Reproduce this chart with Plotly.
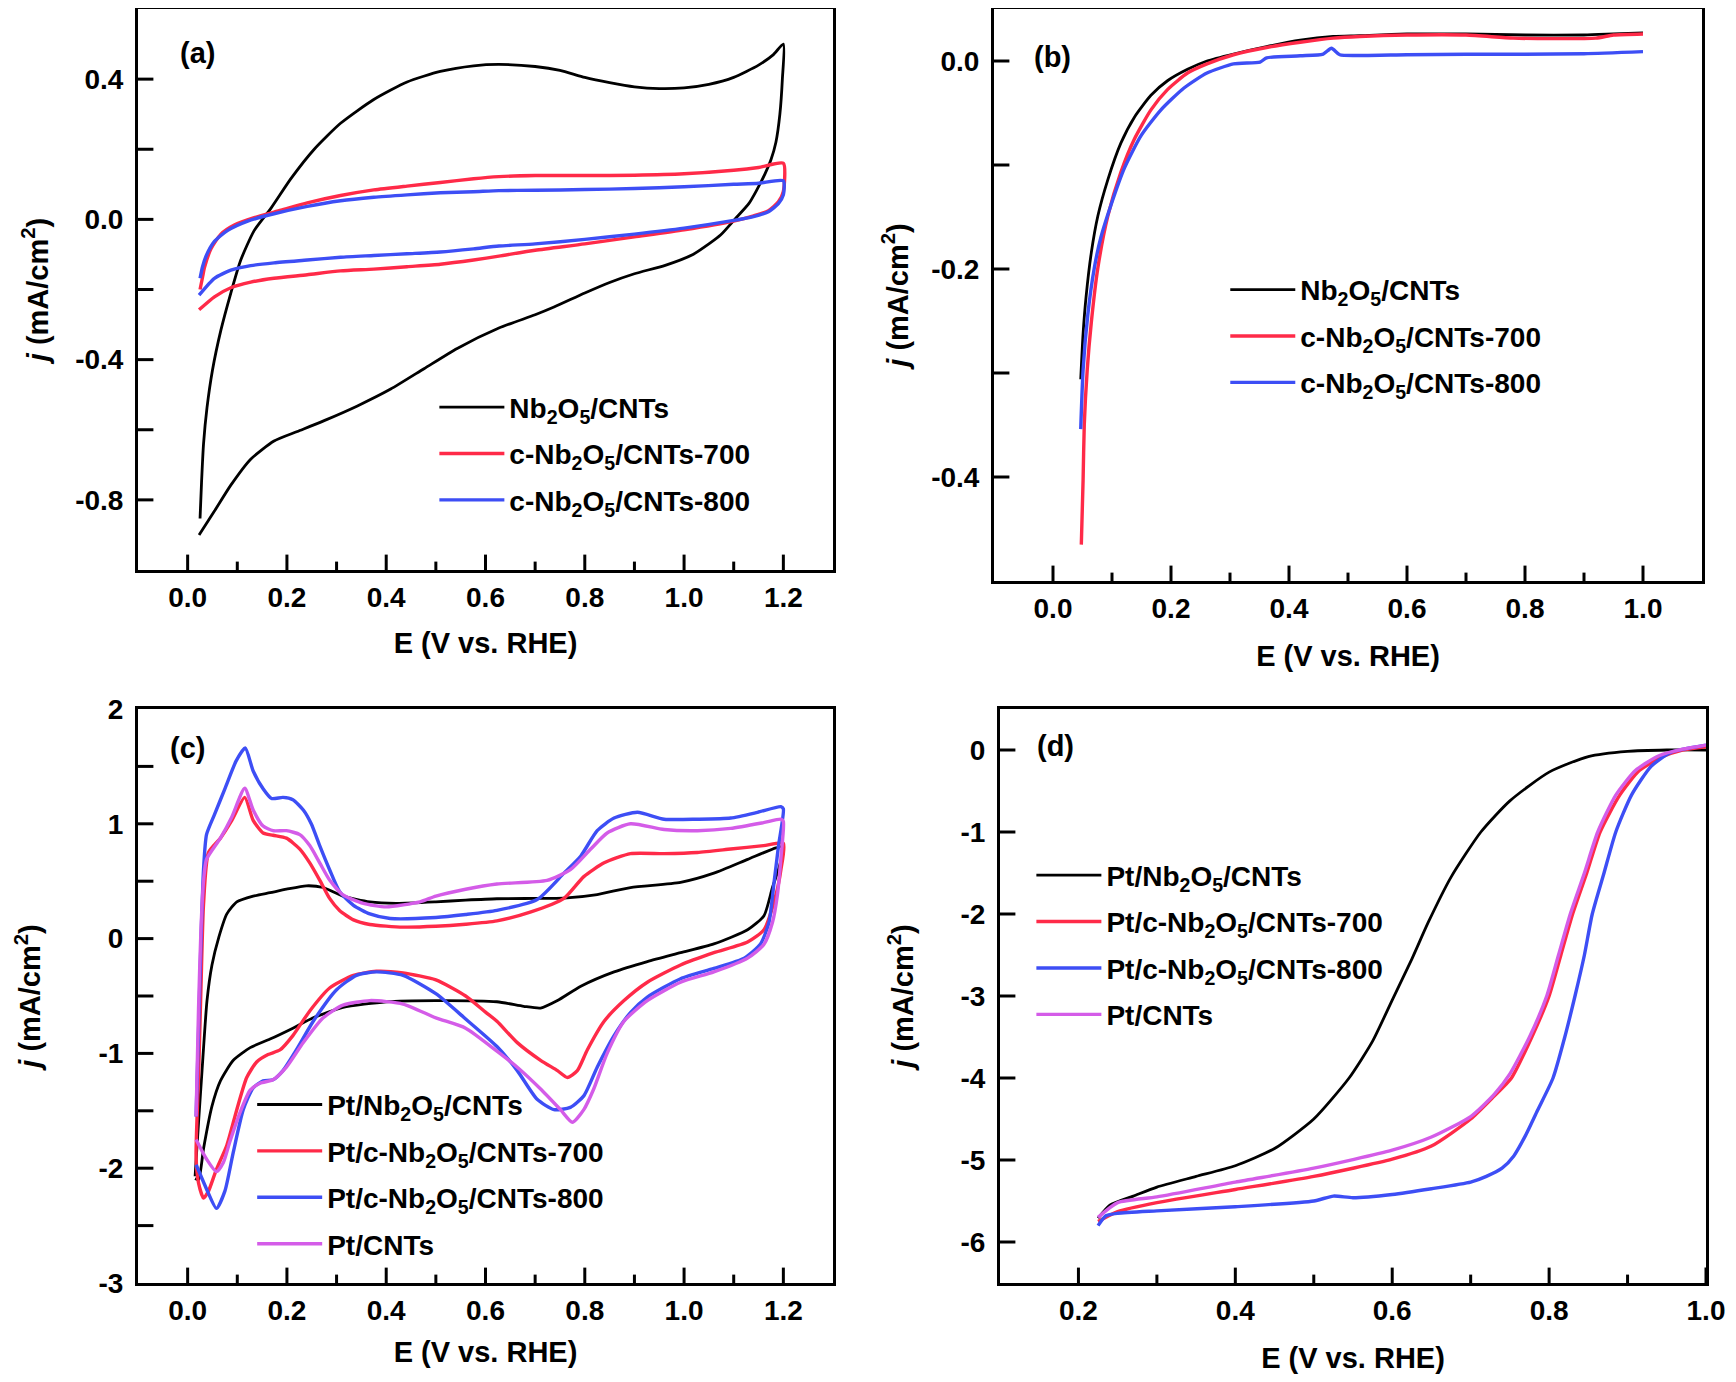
import plotly.graph_objects as go

# the page body has an 8 px margin, so the figure is 16 px smaller than the window
OFF = 8
W, H = 1736 - 2 * OFF, 1382 - 2 * OFF

# ---------------- (a) CV of the supports ----------------
a_black_x = [0.025, 0.028, 0.032, 0.039, 0.05, 0.067, 0.087, 0.107, 0.134, 0.168, 0.208, 0.255, 0.308,
             0.375, 0.442, 0.509, 0.576, 0.627, 0.7, 0.75, 0.8, 0.85, 0.9, 0.95, 1.0, 1.05, 1.1, 1.15,
             1.18, 1.2,
             1.198, 1.193, 1.185, 1.175, 1.163, 1.145, 1.13, 1.102, 1.074, 1.05, 1.018, 0.962, 0.9, 0.85,
             0.8, 0.738, 0.7, 0.627, 0.543, 0.476, 0.409, 0.342, 0.275, 0.221, 0.174, 0.127, 0.087,
             0.054, 0.023]
a_black_y = [-0.853, -0.75, -0.64, -0.537, -0.43, -0.316, -0.21, -0.116, -0.032, 0.032, 0.116, 0.2, 0.274,
             0.342, 0.392, 0.422, 0.438, 0.442, 0.436, 0.425, 0.405, 0.39, 0.378, 0.373, 0.375, 0.385, 0.405,
             0.44, 0.47, 0.50,
             0.40, 0.30, 0.22, 0.17, 0.13, 0.08, 0.044, 0.0, -0.044, -0.07, -0.1, -0.131, -0.155, -0.18,
             -0.21, -0.25, -0.272, -0.31, -0.368, -0.426, -0.484, -0.532, -0.574, -0.605, -0.632,
             -0.684, -0.758, -0.832, -0.9]

a_red_x = [0.025, 0.03, 0.034, 0.047, 0.067, 0.094, 0.134, 0.188, 0.241, 0.308, 0.375, 0.442, 0.509,
           0.576, 0.627, 0.7, 0.8, 0.9, 1.0, 1.1, 1.15, 1.2,
           1.2, 1.19, 1.17, 1.14, 1.1, 1.0, 0.9, 0.8, 0.7, 0.627, 0.576, 0.509, 0.442, 0.375, 0.308,
           0.241, 0.174, 0.127, 0.087, 0.054, 0.023]
a_red_y = [-0.2, -0.165, -0.137, -0.084, -0.042, -0.016, 0.005, 0.026, 0.047, 0.068, 0.084, 0.095, 0.105,
           0.116, 0.122, 0.125, 0.125, 0.126, 0.13, 0.14, 0.148, 0.16,
           0.08, 0.05, 0.025, 0.01, -0.005, -0.03, -0.05, -0.07, -0.088, -0.105, -0.116, -0.128, -0.135,
           -0.142, -0.147, -0.158, -0.168, -0.179, -0.195, -0.221, -0.258]

a_blue_x = [0.025, 0.03, 0.037, 0.054, 0.08, 0.121, 0.174, 0.241, 0.308, 0.375, 0.442, 0.509, 0.576,
            0.627, 0.7, 0.8, 0.9, 1.0, 1.1, 1.15, 1.2,
            1.2, 1.19, 1.17, 1.14, 1.1, 1.0, 0.9, 0.8, 0.7, 0.627, 0.576, 0.509, 0.442, 0.375, 0.308,
            0.241, 0.174, 0.127, 0.087, 0.054, 0.023]
a_blue_y = [-0.168, -0.135, -0.105, -0.063, -0.032, -0.005, 0.016, 0.037, 0.053, 0.063, 0.07, 0.076, 0.079,
            0.082, 0.083, 0.085, 0.088, 0.093, 0.1, 0.103, 0.11,
            0.07, 0.045, 0.022, 0.008, -0.003, -0.025, -0.042, -0.057, -0.07, -0.076, -0.084, -0.093,
            -0.098, -0.103, -0.108, -0.116, -0.124, -0.132, -0.145, -0.168, -0.216]

# ---------------- (b) LSV of the supports ----------------
b_black_x = [0.047, 0.051, 0.056, 0.065, 0.076, 0.093, 0.115, 0.138, 0.166, 0.194, 0.228, 0.261, 0.306,
             0.362, 0.419, 0.475, 0.52, 0.6, 0.7, 0.8, 0.9, 0.95, 1.0]
b_black_y = [-0.306, -0.262, -0.227, -0.184, -0.149, -0.114, -0.079, -0.054, -0.033, -0.019, -0.008, 0.0,
             0.0067, 0.0138, 0.02, 0.0236, 0.0243, 0.026, 0.026, 0.025, 0.025, 0.026, 0.027]

b_red_x = [0.048, 0.051, 0.053, 0.058, 0.065, 0.076, 0.093, 0.115, 0.138, 0.166, 0.194, 0.228, 0.261,
           0.306, 0.362, 0.419, 0.475, 0.52, 0.6, 0.7, 0.78, 0.85, 0.92, 0.95, 1.0]
b_red_y = [-0.465, -0.403, -0.35, -0.297, -0.251, -0.199, -0.149, -0.107, -0.075, -0.047, -0.0275, -0.0116,
           -0.0028, 0.006, 0.013, 0.018, 0.022, 0.0236, 0.025, 0.025, 0.022, 0.0215, 0.022, 0.025, 0.026]

b_blue_x = [0.047, 0.051, 0.059, 0.07, 0.081, 0.098, 0.121, 0.149, 0.183, 0.222, 0.261, 0.306, 0.351,
            0.362, 0.419, 0.458, 0.472, 0.486, 0.52, 0.6, 0.7, 0.8, 0.9, 1.0]
b_blue_y = [-0.354, -0.297, -0.244, -0.199, -0.17, -0.139, -0.103, -0.072, -0.047, -0.026, -0.0116, -0.0028,
            -0.001, 0.003, 0.005, 0.0067, 0.0123, 0.006, 0.0053, 0.006, 0.0065, 0.0065, 0.007, 0.009]

# ---------------- (c) CV of the Pt catalysts ----------------
c_black_x = [0.015, 0.022, 0.029, 0.039, 0.049, 0.063, 0.079, 0.099, 0.132, 0.166, 0.199, 0.239, 0.273,
             0.313, 0.367, 0.42, 0.5, 0.56, 0.623, 0.7, 0.758, 0.825, 0.892, 0.993, 1.06, 1.128, 1.185, 1.2,
             1.19, 1.178, 1.161, 1.128, 1.06, 0.993, 0.926, 0.859, 0.792, 0.745, 0.711, 0.677, 0.623, 0.5,
             0.4, 0.313, 0.253, 0.212, 0.166, 0.126, 0.092, 0.066, 0.049, 0.032, 0.022, 0.015]
c_black_y = [-2.07, -1.6, -1.15, -0.54, -0.23, 0.015, 0.215, 0.32, 0.37, 0.40, 0.43, 0.46, 0.445,
             0.37, 0.32, 0.307, 0.32, 0.335, 0.347, 0.35, 0.353, 0.384, 0.445, 0.49, 0.57, 0.69, 0.79, 0.8,
             0.6, 0.445, 0.2, 0.077, -0.046, -0.123, -0.2, -0.29, -0.415, -0.54, -0.605, -0.59, -0.55, -0.54,
             -0.55, -0.6, -0.69, -0.78, -0.875, -0.95, -1.06, -1.24, -1.46, -1.83, -2.1, -2.09]

c_red_x = [0.017, 0.022, 0.027, 0.032, 0.042, 0.066, 0.089, 0.115, 0.132, 0.152, 0.172, 0.199, 0.226,
           0.246, 0.266, 0.286, 0.306, 0.334, 0.367, 0.434, 0.5, 0.56, 0.623, 0.69, 0.758, 0.798, 0.839,
           0.892, 0.96, 1.027, 1.094, 1.16, 1.2,
           1.195, 1.185, 1.161, 1.128, 1.06, 0.993, 0.926, 0.879, 0.839, 0.805, 0.785, 0.765, 0.745,
           0.711, 0.664, 0.623, 0.6, 0.56, 0.5, 0.434, 0.38, 0.334, 0.286, 0.246, 0.212, 0.186, 0.162,
           0.139, 0.119, 0.099, 0.079, 0.058, 0.042, 0.032, 0.022, 0.017]
c_red_y = [-1.9, -1.2, -0.4, 0.3, 0.75, 0.875, 1.03, 1.23, 1.03, 0.92, 0.9, 0.875, 0.78,
           0.66, 0.51, 0.35, 0.245, 0.163, 0.123, 0.10, 0.107, 0.125, 0.154, 0.23, 0.35, 0.54, 0.66,
           0.74, 0.74, 0.75, 0.78, 0.81, 0.83,
           0.6, 0.38, 0.077, -0.03, -0.123, -0.23, -0.38, -0.54, -0.72, -0.97, -1.15, -1.21, -1.15,
           -1.06, -0.906, -0.72, -0.64, -0.5, -0.36, -0.3, -0.285, -0.32, -0.43, -0.63, -0.845, -0.97,
           -1.01, -1.075, -1.21, -1.49, -1.8, -2.01, -2.2, -2.26, -2.13, -1.9]

c_blue_x = [0.017, 0.022, 0.027, 0.032, 0.038, 0.055, 0.075, 0.098, 0.116, 0.132, 0.152, 0.169, 0.192,
            0.212, 0.233, 0.249, 0.266, 0.286, 0.306, 0.334, 0.367, 0.408, 0.5, 0.56, 0.623, 0.704,
            0.758, 0.792, 0.825, 0.859, 0.906, 0.96, 1.027, 1.094, 1.148, 1.195, 1.2,
            1.19, 1.181, 1.171, 1.154, 1.121, 1.06, 0.993, 0.926, 0.892, 0.859, 0.825, 0.798, 0.771,
            0.738, 0.704, 0.664, 0.623, 0.56, 0.5, 0.434, 0.38, 0.34, 0.3, 0.253, 0.219, 0.192, 0.172,
            0.152, 0.132, 0.112, 0.092, 0.075, 0.058, 0.04, 0.025, 0.017]
c_blue_y = [-1.55, -0.8, 0.0, 0.6, 0.906, 1.09, 1.305, 1.55, 1.66, 1.46, 1.305, 1.22, 1.23,
            1.21, 1.12, 1.0, 0.81, 0.6, 0.41, 0.29, 0.215, 0.175, 0.184, 0.21, 0.246, 0.34,
            0.57, 0.72, 0.94, 1.05, 1.10, 1.04, 1.04, 1.05, 1.10, 1.15, 1.13,
            0.8, 0.48, 0.14, -0.046, -0.17, -0.26, -0.35, -0.51, -0.645, -0.845, -1.12, -1.37, -1.47,
            -1.49, -1.40, -1.15, -0.94, -0.7, -0.48, -0.32, -0.29, -0.32, -0.445, -0.72, -0.97, -1.15,
            -1.23, -1.24, -1.3, -1.49, -1.86, -2.2, -2.35, -2.2, -2.05, -1.97]

c_pink_x = [0.017, 0.022, 0.027, 0.032, 0.038, 0.066, 0.089, 0.115, 0.132, 0.152, 0.172, 0.199, 0.226,
            0.246, 0.266, 0.286, 0.313, 0.354, 0.40, 0.468, 0.5, 0.56, 0.623, 0.724, 0.771, 0.812,
            0.845, 0.892, 0.96, 1.027, 1.094, 1.16, 1.195, 1.2,
            1.195, 1.188, 1.178, 1.161, 1.128, 1.06, 0.993, 0.926, 0.879, 0.845, 0.818, 0.798, 0.775,
            0.751, 0.711, 0.664, 0.623, 0.56, 0.5, 0.434, 0.367, 0.313, 0.273, 0.233, 0.199, 0.172,
            0.146, 0.126, 0.105, 0.085, 0.072, 0.058, 0.038, 0.017]
c_pink_y = [-1.55, -0.6, 0.1, 0.5, 0.69, 0.875, 1.06, 1.31, 1.12, 0.98, 0.94, 0.94, 0.906,
            0.81, 0.66, 0.51, 0.38, 0.307, 0.276, 0.32, 0.37, 0.43, 0.476, 0.507, 0.6, 0.78,
            0.92, 1.0, 0.95, 0.94, 0.96, 1.01, 1.04, 1.02,
            0.7, 0.38, 0.14, -0.05, -0.17, -0.29, -0.38, -0.54, -0.72, -1.0, -1.31, -1.49, -1.6,
            -1.49, -1.31, -1.12, -0.98, -0.78, -0.69, -0.57, -0.54, -0.58, -0.69, -0.906, -1.12, -1.23,
            -1.26, -1.32, -1.52, -1.77, -1.95, -2.03, -1.92, -1.75]

# ---------------- (d) ORR polarization curves ----------------
d_black_x = [0.225, 0.24, 0.27, 0.3, 0.35, 0.4, 0.45, 0.5, 0.545, 0.575, 0.6, 0.625, 0.646, 0.675, 0.713,
             0.75, 0.8, 0.85, 0.9, 0.95, 1.0]
d_black_y = [-5.71, -5.55, -5.44, -5.33, -5.2, -5.07, -4.86, -4.5, -4.0, -3.55, -3.05, -2.55, -2.1, -1.55,
             -1.0, -0.62, -0.27, -0.08, -0.016, 0.0, 0.0]

d_red_x = [0.225, 0.25, 0.3, 0.4, 0.5, 0.6, 0.65, 0.7, 0.73, 0.752, 0.778, 0.8, 0.815, 0.83, 0.848, 0.865,
           0.89, 0.915, 0.945, 0.97, 1.0]
d_red_y = [-5.75, -5.63, -5.52, -5.36, -5.2, -4.99, -4.83, -4.5, -4.22, -4.0, -3.5, -3.0, -2.5, -2.0, -1.5,
           -1.0, -0.55, -0.25, -0.08, 0.0, 0.04]

d_blue_x = [0.225, 0.235, 0.25, 0.3, 0.4, 0.5, 0.525, 0.55, 0.6, 0.65, 0.7, 0.72, 0.74, 0.755, 0.77, 0.785,
            0.805, 0.82, 0.833, 0.845, 0.855, 0.87, 0.885, 0.905, 0.93, 0.955, 1.0]
d_blue_y = [-5.8, -5.68, -5.65, -5.62, -5.57, -5.5, -5.44, -5.46, -5.42, -5.35, -5.27, -5.2, -5.1, -4.95,
            -4.7, -4.4, -4.0, -3.5, -3.0, -2.5, -2.0, -1.5, -1.0, -0.55, -0.2, -0.03, 0.06]

d_pink_x = [0.225, 0.25, 0.3, 0.4, 0.5, 0.6, 0.65, 0.7, 0.73, 0.75, 0.775, 0.797, 0.812, 0.827, 0.845,
            0.862, 0.885, 0.91, 0.94, 0.97, 1.0]
d_pink_y = [-5.7, -5.52, -5.45, -5.27, -5.1, -4.88, -4.72, -4.47, -4.2, -3.95, -3.5, -3.0, -2.5, -2.0,
            -1.5, -1.0, -0.55, -0.25, -0.07, 0.01, 0.06]

# legend names
names_ab = ["Nb<sub>2</sub>O<sub>5</sub>/CNTs",
            "c-Nb<sub>2</sub>O<sub>5</sub>/CNTs-700",
            "c-Nb<sub>2</sub>O<sub>5</sub>/CNTs-800"]
names_cd = ["Pt/Nb<sub>2</sub>O<sub>5</sub>/CNTs",
            "Pt/c-Nb<sub>2</sub>O<sub>5</sub>/CNTs-700",
            "Pt/c-Nb<sub>2</sub>O<sub>5</sub>/CNTs-800",
            "Pt/CNTs"]

# labelled ticks
ticks_x_ac = [0.0, 0.2, 0.4, 0.6, 0.8, 1.0, 1.2]
ticks_x_b = [0.0, 0.2, 0.4, 0.6, 0.8, 1.0]
ticks_x_d = [0.2, 0.4, 0.6, 0.8, 1.0]
ticks_y_a = [0.4, 0.0, -0.4, -0.8]
ticks_y_b = [0.0, -0.2, -0.4]
ticks_y_c = [2, 1, 0, -1, -2, -3]
ticks_y_d = [0, -1, -2, -3, -4, -5, -6]
# short (minor) ticks on the x axes, and every tick mark on the y axes
minor_x_ac = [0.1, 0.3, 0.5, 0.7, 0.9, 1.1]
minor_x_b = [0.1, 0.3, 0.5, 0.7, 0.9]
minor_x_d = [0.3, 0.5, 0.7, 0.9]
marks_y_a = [0.4, 0.2, 0.0, -0.2, -0.4, -0.6, -0.8]
marks_y_b = [0.0, -0.1, -0.2, -0.3, -0.4]
marks_y_c = [1.5, 1, 0.5, 0, -0.5, -1, -1.5, -2, -2.5]
marks_y_d = [0, -1, -2, -3, -4, -5, -6]

BLACK, RED, BLUE, PINK = "#000000", "#ff2a48", "#3d4ef5", "#d45ce8"
FONT = "Liberation Sans, Arial, sans-serif"


def fmt(v, dec):
    return ("%." + str(dec) + "f") % v if dec else "%d" % v


# panel frames in page pixels (left, right, top, bottom)
frames = {
    "a": (138, 833, 9, 570),
    "b": (994, 1702, 9, 581),
    "c": (138, 833, 709, 1283),
    "d": (1000, 1706, 709, 1283),
}
ranges = {
    "a": ([-0.1, 1.3], [-1.0, 0.6]),
    "b": ([-0.1, 1.1], [-0.5, 0.05]),
    "c": ([-0.1, 1.3], [-3, 2]),
    "d": ([0.1, 1.0], [-6.5, 0.5]),
}


def dom_x(p):
    l, r, _, _ = frames[p]
    return [max(0, (l - OFF) / W), min(1, (r - OFF) / W)]


def dom_y(p):
    _, _, t, b = frames[p]
    return [max(0, 1 - (b - OFF) / H), min(1, 1 - (t - OFF) / H)]


def paper_x(p, v):
    d0, d1 = dom_x(p)
    x0, x1 = ranges[p][0]
    return d0 + (v - x0) / (x1 - x0) * (d1 - d0)


def paper_y(p, v):
    d0, d1 = dom_y(p)
    y0, y1 = ranges[p][1]
    return d0 + (v - y0) / (y1 - y0) * (d1 - d0)


fig = go.Figure()

panels = [
    ("a", "", "legend", [(a_black_x, a_black_y, BLACK), (a_red_x, a_red_y, RED), (a_blue_x, a_blue_y, BLUE)],
     names_ab, ticks_x_ac, minor_x_ac, marks_y_a),
    ("b", "2", "legend2", [(b_black_x, b_black_y, BLACK), (b_red_x, b_red_y, RED), (b_blue_x, b_blue_y, BLUE)],
     names_ab, ticks_x_b, minor_x_b, marks_y_b),
    ("c", "3", "legend3", [(c_black_x, c_black_y, BLACK), (c_red_x, c_red_y, RED), (c_blue_x, c_blue_y, BLUE),
                           (c_pink_x, c_pink_y, PINK)], names_cd, ticks_x_ac, minor_x_ac, marks_y_c),
    ("d", "4", "legend4", [(d_black_x, d_black_y, BLACK), (d_red_x, d_red_y, RED), (d_blue_x, d_blue_y, BLUE),
                           (d_pink_x, d_pink_y, PINK)], names_cd, ticks_x_d, minor_x_d, marks_y_d),
]

for p, n, leg, series, names, tx, mx, my in panels:
    for i, ((xs, ys, col), name) in enumerate(zip(series, names)):
        fig.add_trace(go.Scatter(
            x=xs, y=ys, mode="lines", name=name, legend=leg, legendgroup=p + str(i),
            line=dict(color=col, width=2.8 if col == BLACK else 3.4, shape="spline", smoothing=0.6),
            xaxis="x" + n, yaxis="y" + n))
    # inward tick marks: line markers centred on the frame, the outer half is clipped away
    x0, y0 = ranges[p][0][0], ranges[p][1][0]
    for xs, ys, sym, size in [(tx, [y0] * len(tx), "line-ns-open", 22),
                              (mx, [y0] * len(mx), "line-ns-open", 12),
                              ([x0] * len(my), my, "line-ew-open", 22)]:
        fig.add_trace(go.Scatter(
            x=xs, y=ys, mode="markers", showlegend=False, hoverinfo="skip", cliponaxis=True,
            marker=dict(symbol=sym, size=size, color="black", line=dict(color="black", width=3)),
            xaxis="x" + n, yaxis="y" + n))

tick_font = dict(family=FONT, size=28, color="black", weight="bold")
title_font = dict(family=FONT, size=29, color="black", weight="bold")


def axis(p, which, tickvals, dec, title, standoff, anchor):
    return dict(domain=dom_x(p) if which == "x" else dom_y(p),
                range=ranges[p][0] if which == "x" else ranges[p][1],
                anchor=anchor, showline=True, linewidth=3, linecolor="black", mirror=True,
                ticks="", tickvals=tickvals, ticktext=[fmt(v, dec) for v in tickvals],
                tickfont=tick_font, showgrid=False, zeroline=False, automargin=False,
                ticklabelstandoff=0 if which == "x" else 6, layer="above traces",
                title=dict(text=title, font=title_font, standoff=standoff))


jtitle = "<i>j</i> (mA/cm<sup>2</sup>)"
etitle = "E (V vs. RHE)"

layout = dict(
    width=W, height=H, margin=dict(l=0, r=0, t=0, b=0),
    paper_bgcolor="white", plot_bgcolor="white",
    xaxis=axis("a", "x", ticks_x_ac, 1, etitle, 22, "y"),
    yaxis=axis("a", "y", ticks_y_a, 1, jtitle, 19, "x"),
    xaxis2=axis("b", "x", ticks_x_b, 1, etitle, 24, "y2"),
    yaxis2=axis("b", "y", ticks_y_b, 1, jtitle, 15, "x2"),
    xaxis3=axis("c", "x", ticks_x_ac, 1, etitle, 18, "y3"),
    yaxis3=axis("c", "y", ticks_y_c, 0, jtitle, 50, "x3"),
    xaxis4=axis("d", "x", ticks_x_d, 1, etitle, 27, "y4"),
    yaxis4=axis("d", "y", ticks_y_d, 0, jtitle, 39, "x4"),
)

leg_font = dict(family=FONT, size=28, color="black", weight="bold")
# legend anchor points (data coordinates of the first line sample, top row)
legend_pos = {"legend": ("a", 0.497, -0.465), "legend2": ("b", 0.292, -0.196),
              "legend3": ("c", 0.13, -1.23), "legend4": ("d", 0.14, -1.225)}
for key, (p, lx, ly) in legend_pos.items():
    layout[key] = dict(x=paper_x(p, lx), y=paper_y(p, ly), xanchor="left", yanchor="top",
                       bgcolor="rgba(0,0,0,0)", borderwidth=0, font=leg_font,
                       itemwidth=65, tracegroupgap=7, traceorder="grouped")

fig.update_layout(**layout)

# panel labels
labels = [("(a)", "x", "y", -0.02, 0.475), ("(b)", "x2", "y2", -0.035, 0.004),
          ("(c)", "x3", "y3", -0.04, 1.66), ("(d)", "x4", "y4", 0.145, 0.05)]
for txt, xr, yr, lx, ly in labels:
    fig.add_annotation(text=txt, x=lx, y=ly, xref=xr, yref=yr, xanchor="left", yanchor="middle",
                       showarrow=False, font=dict(family=FONT, size=29, color="black", weight="bold"))

fig.write_html("out.html")
